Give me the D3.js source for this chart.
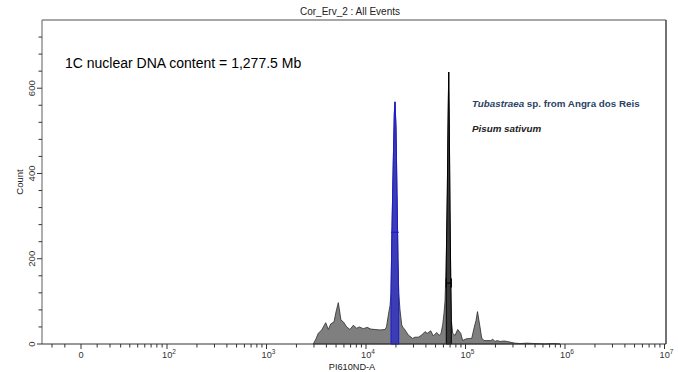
<!DOCTYPE html>
<html><head><meta charset="utf-8">
<script src="https://cdn.jsdelivr.net/npm/d3@7"></script>
<style>
html,body{margin:0;padding:0;background:#fff;}
text{font-family:"Liberation Sans",Arial,sans-serif;}
</style></head>
<body><svg id="c" width="678" height="372"></svg>
<script>
// ---- data ----
const chVals = [2953,3144,3316,3587,3936,4179,4418,4769,4995,5268,5607,5914,6398,6907,7455,8063,8564,9395,10306,11150,12316,13826,15524,16070,16830,17430,17840,18260,18810,19250,19560,20020,20490,20970,21310,21970,22850,23380,24660,26620,29470,31080,33550,36290,39170,41310,44700,47470,51350,54550,56750,59020,60820,62230,64120,65630,66700,67800,68740,69860,71010,72000,74370,78440,83500,89500,93740,101160,109190,115430,122580,127520,132000,139860,145470,153420,179190,187690,198000,208700,222200,243800,263100,284700,314500,352900,415100,499500,629500,757500,890700];
const counts = [0,12,25,33,50,34,47,52,75,97,56,52,40,34,44,37,40,36,39,35,34,33,34,40,70,90,120,275,431,541,568,509,354,197,120,80,45,40,33,21,13,16,16,21,29,25,31,19,27,20,25,45,72,100,197,354,509,638,509,314,158,56,25,20,34,25,8,12,13,13,40,55,76,40,14,8,8,11,6,8,6,7,6,4,2,1,2,1,0,1,0];
const gateNames = ["Tubastraea","Pisum"];
const gateLo = [17840, 64120];
const gateHi = [21310, 72000];
const gateLevel = [262, 143];
const xMajorTicks = [0,1e2,1e3,1e4,1e5,1e6,1e7];
const xMajorLabels = ["0","2","3","4","5","6","7"];
const yMajorTicks = [0,200,400,600];
const title = "Cor_Erv_2 : All Events";
const xTitle = "PI610ND-A";
const yTitle = "Count";
const annotation = "1C nuclear DNA content = 1,277.5 Mb";

// ---- layout ----
const L=42, R=666, T=20, B=344;
const svg = d3.select("#c");
const xLog = d3.scaleLog().domain([1e2,1e7]).range([167,664.5]);
const xLow = d3.scaleSymlog().constant(34).domain([0,100]).range([81,167]);
const x = v => v >= 100 ? xLog(v) : xLow(v);
const y = d3.scaleLinear().domain([0,760]).range([B,T]);

const data = chVals.map((v,i)=>({v, c:counts[i]}));
const area = d3.area().x(d=>x(d.v)).y0(y(0)).y1(d=>y(d.c));

// histogram
svg.append("path").datum(data).attr("d",area)
  .attr("fill","#7f7f7f").attr("stroke","#2b2b2b").attr("stroke-width",0.8).attr("stroke-linejoin","round");

// gates
const gFill=["#3c3cb4","#3a3a3a"], gStroke=["#1a1ad6","#000"], capH=[0,4.5];
gateNames.forEach((n,i)=>{
  const sub = data.filter(d=>d.v>=gateLo[i] && d.v<=gateHi[i]);
  svg.append("path").datum(sub).attr("d",area)
    .attr("fill",gFill[i]).attr("stroke",gStroke[i]).attr("stroke-width",1);
  const gy = y(gateLevel[i]);
  svg.append("line").attr("x1",x(gateLo[i])).attr("x2",x(gateHi[i])).attr("y1",gy).attr("y2",gy)
    .attr("stroke",gStroke[i]).attr("stroke-width",1.2);
  if(capH[i]>0)[gateLo[i],gateHi[i]].forEach(v=>{
    svg.append("line").attr("x1",x(v)).attr("x2",x(v)).attr("y1",gy-capH[i]).attr("y2",gy+capH[i])
      .attr("stroke",gStroke[i]).attr("stroke-width",1.2);
  });
});

// frame
svg.append("line").attr("x1",L).attr("x2",R).attr("y1",T).attr("y2",T).attr("stroke","#8a8a8a").attr("stroke-width",1.5);
svg.append("line").attr("x1",R).attr("x2",R).attr("y1",T).attr("y2",B).attr("stroke","#444").attr("stroke-width",1.5);
svg.append("line").attr("x1",L).attr("x2",L).attr("y1",T).attr("y2",B).attr("stroke","#777").attr("stroke-width",1.2);
svg.append("line").attr("x1",L).attr("x2",R).attr("y1",B).attr("y2",B).attr("stroke","#333").attr("stroke-width",1.2);

// x ticks
const minor = [];
[-20,-10,10,20,30,40,50,60,70,80,90].forEach(v=>minor.push(v));
for(let e=2;e<7;e++) for(let k=2;k<10;k++) minor.push(k*Math.pow(10,e));
minor.forEach(v=>{
  svg.append("line").attr("x1",x(v)).attr("x2",x(v)).attr("y1",B).attr("y2",B+3.5).attr("stroke","#333").attr("stroke-width",1);
});
xMajorTicks.forEach((v,i)=>{
  svg.append("line").attr("x1",x(v)).attr("x2",x(v)).attr("y1",B).attr("y2",B+5).attr("stroke","#333").attr("stroke-width",1);
  const t = svg.append("text").attr("x",x(v)+(v===0?0:2)).attr("y",357.5).attr("text-anchor","middle")
    .attr("font-size",9.2).attr("fill","#333");
  if(v===0) t.text("0");
  else { t.append("tspan").text("10"); t.append("tspan").attr("font-size",6.5).attr("dy",-4).text(xMajorLabels[i]); }
});

// y ticks
for(let c=0;c<=740;c+=40){
  const maj = yMajorTicks.includes(c);
  svg.append("line").attr("x1",L).attr("x2",L-(maj?5:3.5)).attr("y1",y(c)).attr("y2",y(c)).attr("stroke","#333").attr("stroke-width",1);
}
yMajorTicks.forEach(c=>{
  svg.append("text").attr("transform",`translate(35,${y(c)}) rotate(-90)`).attr("text-anchor","middle")
    .attr("font-size",9.5).attr("fill","#333").text(c);
});

// titles
svg.append("text").attr("x",350).attr("y",15).attr("text-anchor","middle").attr("font-size",10).attr("fill","#222").text(title);
svg.append("text").attr("x",352).attr("y",369.5).attr("text-anchor","middle").attr("font-size",9.2).attr("fill","#222").text(xTitle);
svg.append("text").attr("transform",`translate(23,${(T+B)/2}) rotate(-90)`).attr("text-anchor","middle").attr("font-size",9.5).attr("fill","#222").text(yTitle);

// annotations
svg.append("text").attr("x",65).attr("y",68).attr("font-size",14).attr("fill","#000").text(annotation);
const t1 = svg.append("text").attr("x",472).attr("y",107).attr("font-size",9.8).attr("font-weight","bold").attr("fill","#2b4266");
t1.append("tspan").attr("font-style","italic").text("Tubastraea");
t1.append("tspan").text(" sp. from Angra dos Reis");
svg.append("text").attr("x",472).attr("y",132).attr("font-size",9.8).attr("font-weight","bold").attr("font-style","italic").attr("fill","#222").text("Pisum sativum");
</script></body></html>
